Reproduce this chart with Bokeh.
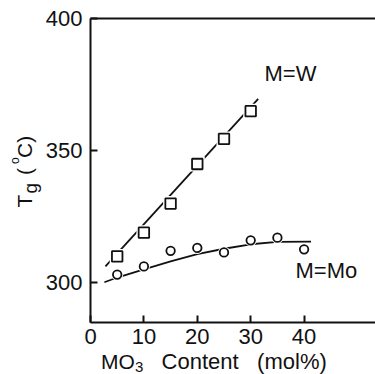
from math import pi
from bokeh.plotting import figure
from bokeh.models import Range1d, FixedTicker, Label, LinearAxis
from bokeh.embed import file_html
from bokeh.resources import INLINE

# ---- data ----
w_x = [5, 10, 15, 20, 25, 30]
w_y = [310, 319, 330, 345, 354.5, 365]
w_fit_x = [2.8, 31.4]
w_fit_y = [306.2, 369.7]

mo_x = [5, 10, 15, 20, 25, 30, 35, 40]
mo_y = [303.1, 306.2, 312.1, 313.2, 311.5, 316.1, 317.1, 312.7]
mo_fit_x = [2.6, 5, 10, 15, 20, 25, 30, 35, 41.3]
mo_fit_y = [300.2, 302.0, 305.1, 308.1, 310.9, 312.9, 314.6, 315.5, 315.6]

x_ticks = [0, 10, 20, 30, 40]
y_ticks = [300, 350, 400]
x_bounds = (0, 53.4)
y_bounds = (285.08, 400)

FONT = "Liberation Sans"
INK = "#111111"

p = figure(width=375, height=374,
           x_range=Range1d(-16.854, 53.371), y_range=Range1d(265.27, 406.93),
           output_backend="svg", toolbar_location=None,
           min_border=0, min_border_left=0, min_border_right=0,
           min_border_top=0, min_border_bottom=0)
p.grid.visible = False
p.outline_line_color = None
p.background_fill_color = "white"
p.border_fill_color = "white"

def style_axis(ax):
    ax.axis_line_width = 2
    ax.axis_line_color = INK
    ax.major_tick_line_width = 2
    ax.major_tick_line_color = INK
    ax.major_tick_in = 7
    ax.major_tick_out = 0
    ax.minor_tick_line_color = None
    ax.major_label_text_font = FONT
    ax.major_label_text_font_size = "22px"
    ax.major_label_text_color = INK

xa = p.xaxis[0]
ya = p.yaxis[0]
style_axis(xa)
style_axis(ya)
xa.ticker = FixedTicker(ticks=x_ticks)
ya.ticker = FixedTicker(ticks=y_ticks)
xa.fixed_location = y_bounds[0]
ya.fixed_location = x_bounds[0]
xa.bounds = x_bounds
ya.bounds = y_bounds
xa.major_label_standoff = 7
ya.major_label_standoff = 8

# top border as an axis without ticks
top = LinearAxis(fixed_location=y_bounds[1], bounds=x_bounds,
                 ticker=FixedTicker(ticks=[]))
top.axis_line_width = 2
top.axis_line_color = INK
top.major_tick_line_color = None
top.minor_tick_line_color = None
top.major_label_text_alpha = 0
p.add_layout(top, "above")

# fit lines
p.line(w_fit_x, w_fit_y, line_color=INK, line_width=1.8)
p.line(mo_fit_x, mo_fit_y, line_color=INK, line_width=1.8)

# white halos (gap between line and markers)
p.scatter(w_x, w_y, marker="square", size=15, fill_color="white", line_color=None)
p.scatter(mo_x, mo_y, marker="circle", size=12, fill_color="white", line_color=None)

# markers
p.scatter(w_x, w_y, marker="square", size=10.5, fill_color="white",
          line_color=INK, line_width=1.8)
p.scatter(mo_x, mo_y, marker="circle", size=8.5, fill_color="white",
          line_color=INK, line_width=1.8)

def lab(x, y, text, size, angle=0.0):
    p.add_layout(Label(x=x, y=y, text=text, text_font=FONT,
                       text_font_size=f"{size}px", text_color=INK,
                       text_align="left", text_baseline="alphabetic",
                       angle=angle, angle_units="rad"))

# series labels
lab(32.58, 379.3, "M=W", 22)
lab(38.39, 304.6, "M=Mo", 22)

# x axis title: MO3 Content (mol%)
lab(1.97, 270.1, "MO", 21)
lab(8.33, 268.1, "3", 15)
lab(13.3, 270.2, "Content", 22)
lab(31.2, 270.2, "(mol%)", 22)

# y axis title: Tg (oC)
lab(-12.42, 328.52, "T", 21, pi / 2)
lab(-11.16, 333.83, "g", 19, pi / 2)
lab(-12.42, 340.83, "(", 21, pi / 2)
lab(-14.13, 345.0, "o", 12, pi / 2)
lab(-12.42, 347.27, "C)", 21, pi / 2)

open("out.html", "w").write(file_html(p, INLINE))
